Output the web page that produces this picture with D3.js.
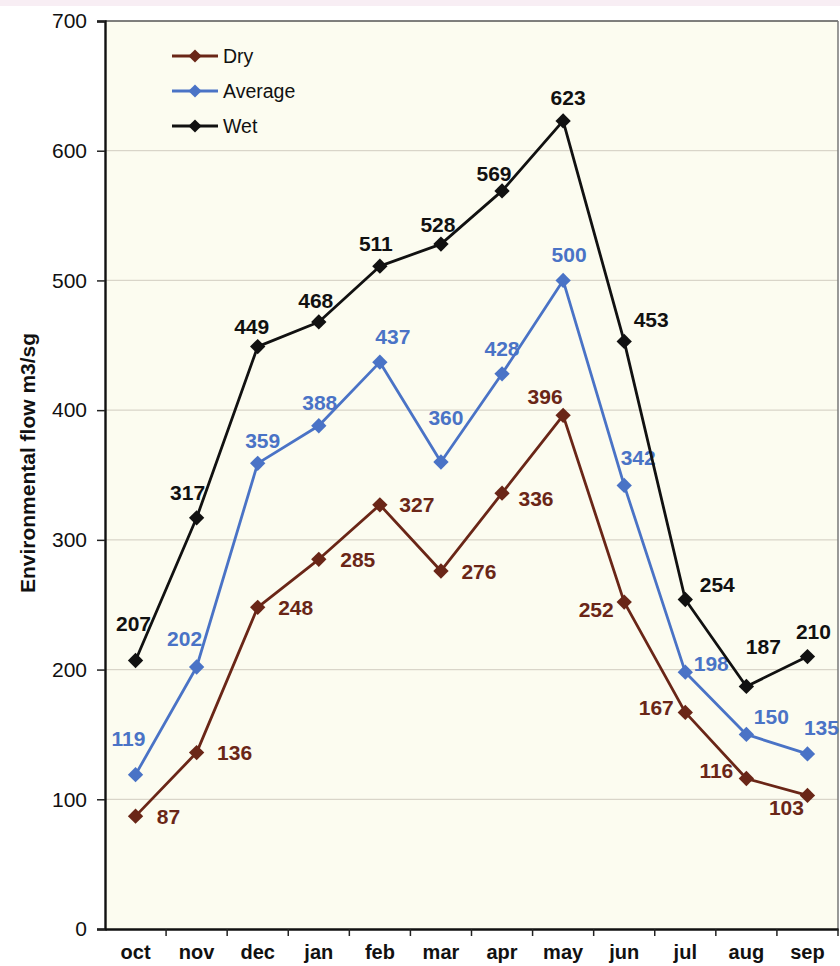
<!DOCTYPE html>
<html>
<head>
<meta charset="utf-8">
<script src="https://cdn.jsdelivr.net/npm/d3@7/dist/d3.min.js"></script>
<style>
  html, body { margin: 0; padding: 0; background: #ffffff; }
  svg { display: block; }
  text { font-family: "Liberation Sans", Arial, sans-serif; }
</style>
</head>
<body>
<svg id="chart" width="840" height="966"></svg>
<script>
// Months of the hydrological year
const months = ["oct", "nov", "dec", "jan", "feb", "mar", "apr", "may", "jun", "jul", "aug", "sep"];

// Environmental flow (m3/s) per scenario
const dryValues = [87, 136, 248, 285, 327, 276, 336, 396, 252, 167, 116, 103];
const averageValues = [119, 202, 359, 388, 437, 360, 428, 500, 342, 198, 150, 135];
const wetValues = [207, 317, 449, 468, 511, 528, 569, 623, 453, 254, 187, 210];

const yTicks = [0, 100, 200, 300, 400, 500, 600, 700];
const yTitle = "Environmental flow m3/sg";

// Label placement relative to each marker (dx, dy in px)
const dryLabelOffsets = [[33, 0], [38, 0], [38, 0], [39, 0], [37, 0], [38, 0], [34, 5], [-18, -19], [-28, 7], [-29, -5], [-30, -8], [-21, 12]];
const averageLabelOffsets = [[-7, -36], [-12, -29], [5, -23], [1, -23], [13, -26], [5, -45], [0, -25], [6, -26], [14, -28], [26, -9], [25, -18], [14, -26]];
const wetLabelOffsets = [[-2, -37], [-9, -25], [-6, -20], [-3, -21], [-4, -23], [-3, -20], [-8, -17], [5, -23], [27, -22], [32, -15], [17, -40], [6, -25]];

const series = [
  { name: "Dry", values: dryValues, offsets: dryLabelOffsets, color: "#6a2617" },
  { name: "Average", values: averageValues, offsets: averageLabelOffsets, color: "#4a73c6" },
  { name: "Wet", values: wetValues, offsets: wetLabelOffsets, color: "#111111" }
];

const svg = d3.select("#chart");
const margin = { left: 105, right: 2, top: 21, bottom: 37 };
const W = 840, H = 966;
const plotW = W - margin.left - margin.right;
const plotH = H - margin.top - margin.bottom;

// faint tint along the top edge of the page
svg.append("rect").attr("x", 0).attr("y", 0).attr("width", W).attr("height", 6).attr("fill", "#f8eef4");

const x = d3.scaleBand().domain(months).range([margin.left, margin.left + plotW]).paddingInner(0).paddingOuter(0);
const y = d3.scaleLinear().domain([0, 700]).range([margin.top + plotH, margin.top]);
const cx = m => x(m) + x.bandwidth() / 2;

// plot background
svg.append("rect")
  .attr("x", margin.left).attr("y", margin.top)
  .attr("width", plotW).attr("height", plotH)
  .attr("fill", "#fcfcf0");

// horizontal gridlines
svg.append("g").selectAll("line")
  .data(yTicks.filter(t => t > 0 && t < 700))
  .join("line")
  .attr("x1", margin.left).attr("x2", margin.left + plotW)
  .attr("y1", d => y(d)).attr("y2", d => y(d))
  .attr("stroke", "#d9d5c9").attr("stroke-width", 1.2);

// plot frame: top and right edges
svg.append("line")
  .attr("x1", margin.left).attr("x2", margin.left + plotW)
  .attr("y1", y(700)).attr("y2", y(700))
  .attr("stroke", "#555").attr("stroke-width", 1.5);
svg.append("line")
  .attr("x1", margin.left + plotW).attr("x2", margin.left + plotW)
  .attr("y1", y(700)).attr("y2", y(0))
  .attr("stroke", "#777").attr("stroke-width", 1.5);

// y axis
const yAxis = d3.axisLeft(y).tickValues(yTicks).tickSize(8).tickPadding(10);
const gy = svg.append("g").attr("transform", `translate(${margin.left},0)`).call(yAxis);
gy.select(".domain").attr("stroke", "#111").attr("stroke-width", 2.4);
gy.selectAll(".tick line").attr("stroke", "#222").attr("stroke-width", 1.5);
gy.selectAll(".tick text").attr("font-size", 21).attr("fill", "#111")
  .attr("font-family", "Liberation Sans, Arial, sans-serif");

// x axis: ticks sit between categories
const xAxis = d3.axisBottom(x).tickSize(0).tickPadding(16);
const gx = svg.append("g").attr("transform", `translate(0,${y(0)})`).call(xAxis);
gx.select(".domain").attr("stroke", "#111").attr("stroke-width", 2.4);
gx.selectAll(".tick text").attr("font-size", 20).attr("font-weight", "bold").attr("fill", "#111")
  .attr("font-family", "Liberation Sans, Arial, sans-serif");
gx.append("g").selectAll("line")
  .data(months)
  .join("line")
  .attr("x1", d => x(d) + x.bandwidth())
  .attr("x2", d => x(d) + x.bandwidth())
  .attr("y1", 0).attr("y2", 7)
  .attr("stroke", "#222").attr("stroke-width", 1.5);

// y axis title
svg.append("text")
  .attr("transform", `translate(28,${(y(0) + y(700)) / 2 - 12}) rotate(-90)`)
  .attr("text-anchor", "middle")
  .attr("dy", "0.35em")
  .attr("font-size", 21).attr("font-weight", "bold").attr("fill", "#111")
  .text(yTitle);

const diamond = d3.symbol().type(d3.symbolDiamond2).size(150);
const line = d3.line().x((d, i) => cx(months[i])).y(d => y(d));

series.forEach(s => {
  const g = svg.append("g");
  g.append("path")
    .attr("d", line(s.values))
    .attr("fill", "none")
    .attr("stroke", s.color)
    .attr("stroke-width", 2.8)
    .attr("stroke-linejoin", "round");
  g.selectAll("path.marker")
    .data(s.values)
    .join("path")
    .attr("class", "marker")
    .attr("d", diamond)
    .attr("transform", (d, i) => `translate(${cx(months[i])},${y(d)})`)
    .attr("fill", s.color);
  g.selectAll("text")
    .data(s.values)
    .join("text")
    .attr("x", (d, i) => cx(months[i]) + s.offsets[i][0])
    .attr("y", (d, i) => y(d) + s.offsets[i][1])
    .attr("dy", "0.36em")
    .attr("text-anchor", "middle")
    .attr("font-size", 21)
    .attr("font-weight", "bold")
    .attr("fill", s.color)
    .text(d => d);
});

// legend
const legend = svg.append("g").attr("transform", "translate(172,56)");
series.forEach((s, i) => {
  const row = legend.append("g").attr("transform", `translate(0,${i * 35})`);
  row.append("line").attr("x1", 0).attr("x2", 46).attr("y1", 0).attr("y2", 0)
    .attr("stroke", s.color).attr("stroke-width", 2.8);
  row.append("path").attr("d", d3.symbol().type(d3.symbolDiamond2).size(110))
    .attr("transform", "translate(23,0)").attr("fill", s.color);
  row.append("text").attr("x", 51).attr("y", 0).attr("dy", "0.36em")
    .attr("font-size", 19.5).attr("fill", "#111").text(s.name);
});
</script>
</body>
</html>
